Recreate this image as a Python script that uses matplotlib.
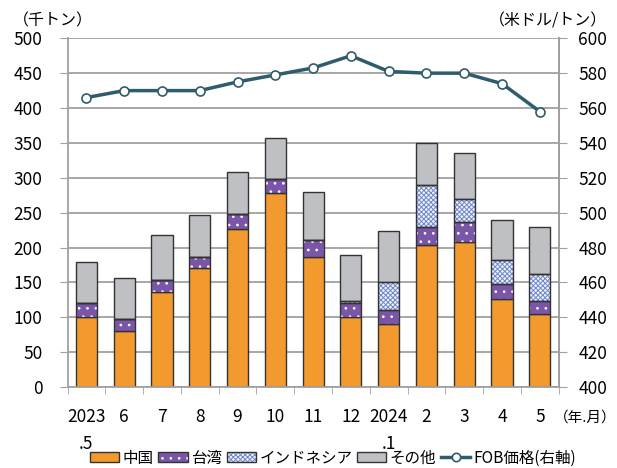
import matplotlib
matplotlib.use("Agg")
import matplotlib.pyplot as plt
from matplotlib.patches import Patch
from matplotlib.lines import Line2D
from matplotlib.legend_handler import HandlerTuple
import numpy as np

plt.rcParams['font.family'] = ['Noto Sans CJK JP', 'DejaVu Sans']
plt.rcParams['hatch.linewidth'] = 0.7

labels = ["2023\n.5", "6", "7", "8", "9", "10", "11", "12", "2024\n.1", "2", "3", "4", "5"]
china = [101, 80, 136, 170, 227, 278, 186, 100, 91, 204, 208, 126, 104]
taiwan = [20, 18, 18, 17, 21, 20, 25, 21, 20, 25, 29, 22, 20]
indonesia = [0, 0, 0, 0, 0, 0, 0, 2, 40, 60, 32, 34, 38]
other = [58, 59, 64, 59, 61, 59, 68, 66, 72, 61, 66, 57, 67]
fob = [566, 570, 570, 570, 575, 579, 583, 590, 581, 580, 580, 574, 558]

c_china = '#F39A2E'
c_taiwan = '#7B55A8'
c_indo_hatch = '#7088CA'
c_indo_face = '#EEF2FA'
c_other = '#BFC0C4'
c_edge = '#333333'
c_line = '#2E5B6E'
c_grid = '#A0A0A0'
indo_hatch = 'xxxxxxx'
tw_hatch = '..'

fig = plt.figure(figsize=(6.17, 4.68), dpi=100)
ax = fig.add_axes([67.5/617, 1-387/468, (558.7-67.5)/617, (387-38.3)/468])

x = np.arange(len(labels))
w = 0.56
china_a = np.array(china); taiwan_a = np.array(taiwan)
indo_a = np.array(indonesia); other_a = np.array(other)
b1 = china_a
b2 = b1 + taiwan_a
b3 = b2 + indo_a

ax.bar(x, china_a, w, color=c_china, edgecolor=c_edge, linewidth=1.0, zorder=2)
ax.bar(x, taiwan_a, w, bottom=b1, color=c_taiwan, edgecolor='white', hatch=tw_hatch, linewidth=0, zorder=2)
ax.bar(x, taiwan_a, w, bottom=b1, fill=False, edgecolor=c_edge, linewidth=1.0, zorder=3)
ax.bar(x, indo_a, w, bottom=b2, color=c_indo_face, edgecolor=c_indo_hatch, hatch=indo_hatch, linewidth=0, zorder=2)
ax.bar(x, indo_a, w, bottom=b2, fill=False, edgecolor=c_edge, linewidth=1.0, zorder=3)
ax.bar(x, other_a, w, bottom=b3, color=c_other, edgecolor=c_edge, linewidth=1.0, zorder=2)

ax.set_xlim(-0.5, len(labels) - 0.5)
ax.set_ylim(0, 500)
ax.set_yticks(np.arange(0, 501, 50))
ax.yaxis.grid(True, color=c_grid, linewidth=1.3)
ax.set_axisbelow(True)
ax.set_xticks(x)
ax.set_xticklabels(labels, linespacing=1.65, fontsize=12.5)
ax.set_xticks(np.arange(-0.5, len(labels), 1.0), minor=True)
ax.tick_params(axis='x', which='major', length=0, pad=15)
ax.tick_params(axis='x', which='minor', length=5, color=c_grid, direction='out')
ax.tick_params(axis='y', length=6, color=c_grid, labelsize=12.5, pad=12)
ax.spines['top'].set_visible(False)
for s in ['left', 'bottom', 'right']:
    ax.spines[s].set_color(c_grid)
    ax.spines[s].set_linewidth(1.3)

ax2 = ax.twinx()
ax2.set_ylim(400, 600)
ax2.set_yticks(np.arange(400, 601, 20))
ax2.plot(x, fob, color=c_line, linewidth=2.5, marker='o', markersize=6.5,
         markerfacecolor='white', markeredgecolor=c_line, markeredgewidth=1.2, zorder=5)
ax2.tick_params(axis='y', length=6, color=c_grid, labelsize=12.5, pad=8)
for s in ['top', 'left', 'bottom']:
    ax2.spines[s].set_visible(False)
ax2.spines['right'].set_color(c_grid)
ax2.spines['right'].set_linewidth(1.3)

fig.text(13/617, 1-21/468, '（千トン）', fontsize=11.5, ha='left', va='center')
fig.text(607/617, 1-21/468, '（米ドル/トン）', fontsize=11.5, ha='right', va='center')
fig.text(616/617, 1-418/468, '（年.月）', fontsize=10.5, ha='right', va='center')

h_china = Patch(facecolor=c_china, edgecolor=c_edge, linewidth=1.0)
h_tw = (Patch(facecolor=c_taiwan, edgecolor='white', hatch=tw_hatch, linewidth=0),
        Patch(fill=False, edgecolor=c_edge, linewidth=1.0))
h_indo = (Patch(facecolor=c_indo_face, edgecolor=c_indo_hatch, hatch=indo_hatch, linewidth=0),
          Patch(fill=False, edgecolor=c_edge, linewidth=1.0))
h_other = Patch(facecolor=c_other, edgecolor=c_edge, linewidth=1.0)
h_fob = Line2D([], [], color=c_line, linewidth=2.5, marker='o', markersize=6,
               markerfacecolor='white', markeredgecolor=c_line, markeredgewidth=1.2)
fig.legend([h_china, h_tw, h_indo, h_other, h_fob],
           ['中国', '台湾', 'インドネシア', 'その他', 'FOB価格(右軸)'],
           handler_map={tuple: HandlerTuple(ndivide=1, pad=0)},
           loc='center', bbox_to_anchor=(333/617, 1-458/468), ncol=5, frameon=False,
           fontsize=11.2, handlelength=1.9, handleheight=0.55, handletextpad=0.2,
           columnspacing=0.3, borderpad=0)

fig.savefig('out.png', dpi=100)
